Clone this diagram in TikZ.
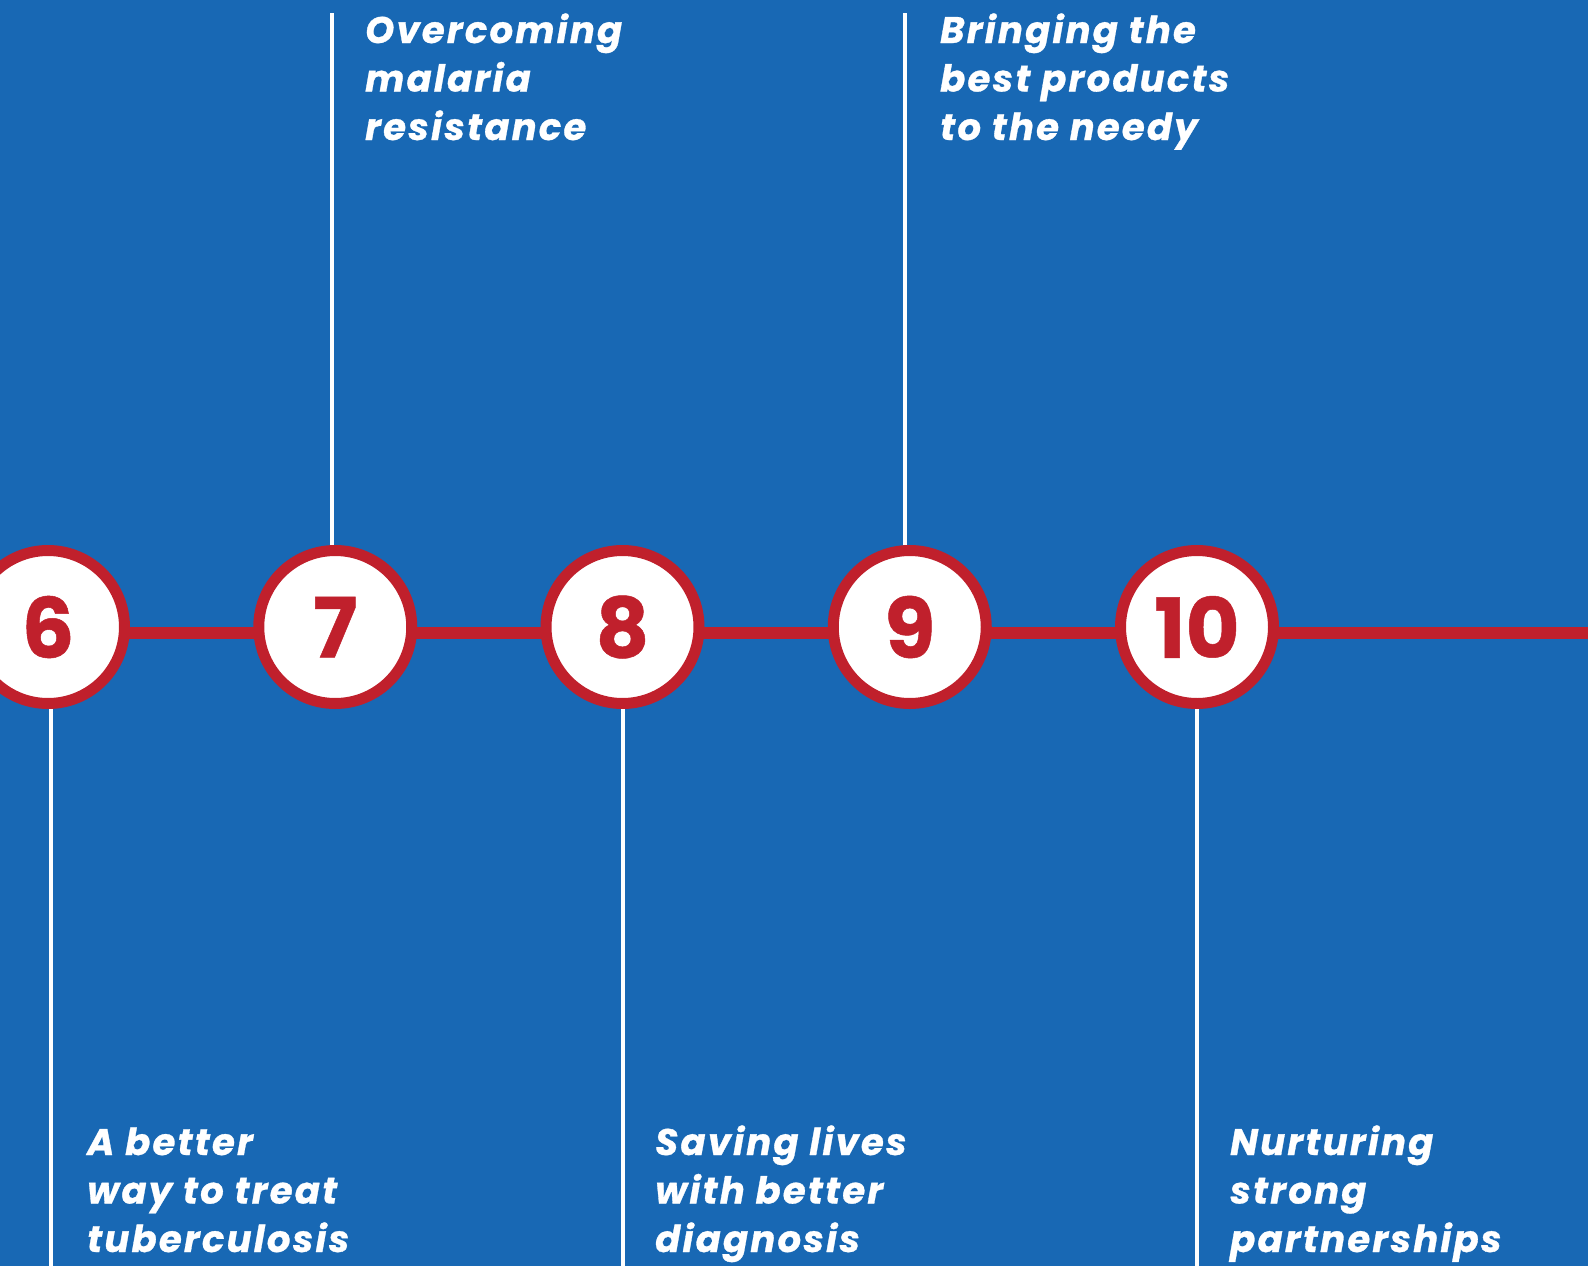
\documentclass[tikz,border=0pt]{standalone}
\usepackage{fontspec}
\setmainfont{Poppins}[BoldFeatures={FakeBold=0.6}]
\newfontfamily\captionfont[LetterSpace=6, BoldItalicFeatures={FakeBold=0.8}]{Poppins}
\usetikzlibrary{positioning}
\usetikzlibrary{backgrounds}
\definecolor{bgblue}{RGB}{24,104,180}
\definecolor{ringred}{RGB}{192,32,44}
\tikzset{
        % Numbered milestones
        node_step/.style={circle, draw=ringred, line width=11pt, fill=white, text=ringred, inner sep=0pt, minimum size=153pt, font=\fontsize{83}{83}\selectfont\bfseries},
        % Milestone captions (anchored on the last line)
        node_caption/.style={anchor=base west, align=left, text=white, inner sep=0pt, font=\captionfont\fontsize{37}{48.5}\selectfont\bfseries\itshape},
        % Red time line
        line_time/.style={ringred, line width=12.5pt},
        % White leader lines
        line_lead/.style={white, line width=4pt}
}

\begin{document}
\begin{tikzpicture}[
            x=1pt, y=-1pt,
            node distance=287.25pt, on grid
        ]
            \useasboundingbox (0,0) rectangle (1588,1266);
            \node[node_step] (s6) at (48,627) {\raisebox{-4pt}{6}};
            \node[node_step, right=of s6] (s7) {\raisebox{-4pt}{7}};
            \node[node_step, right=of s7] (s8) {\raisebox{-4pt}{8}};
            \node[node_step, right=of s8] (s9) {\raisebox{-4pt}{9}};
            \node[node_step, right=of s9] (s10) {\raisebox{-4pt}{10}};

            % leader line ends
            \coordinate (t7) at ([xshift=-3pt]s7 |- 0,13);
            \coordinate (t9) at ([xshift=-5pt]s9 |- 0,13);
            \coordinate (b6) at ([xshift=3pt]s6 |- 0,1266);
            \coordinate (b8) at (s8 |- 0,1266);
            \coordinate (b10) at (s10 |- 0,1266);
            \coordinate (e10) at ([yshift=-6pt]s10.center -| 1588,0);

            \foreach \s/\e in {s7/t7, s9/t9}
                \draw[line_lead] (\s.north -| \e) -- (\e);
            \foreach \s/\e in {s6/b6, s8/b8, s10/b10}
                \draw[line_lead] (\s.south -| \e) -- (\e);

            \node[node_caption] (c7) at (365,140) {Overcoming\\malaria\\resistance};
            \node[node_caption] (c9) at (940,140) {Bringing the\\best products\\to the needy};
            \node[node_caption] (c6) at (87,1252) {A better\\way to treat\\tuberculosis};
            \node[node_caption] (c8) at (655,1252) {Saving lives\\with better\\diagnosis};
            \node[node_caption] (c10) at (1230,1252) {Nurturing\\strong\\partnerships};

            \begin{scope}[on background layer]
                \fill[bgblue] (0,0) rectangle (1588,1266);
                \draw[line_time] ([yshift=-6pt]s6.center) -- ([yshift=-6pt]s10.center) -- (e10);
            \end{scope}
        \end{tikzpicture}
\end{document}
